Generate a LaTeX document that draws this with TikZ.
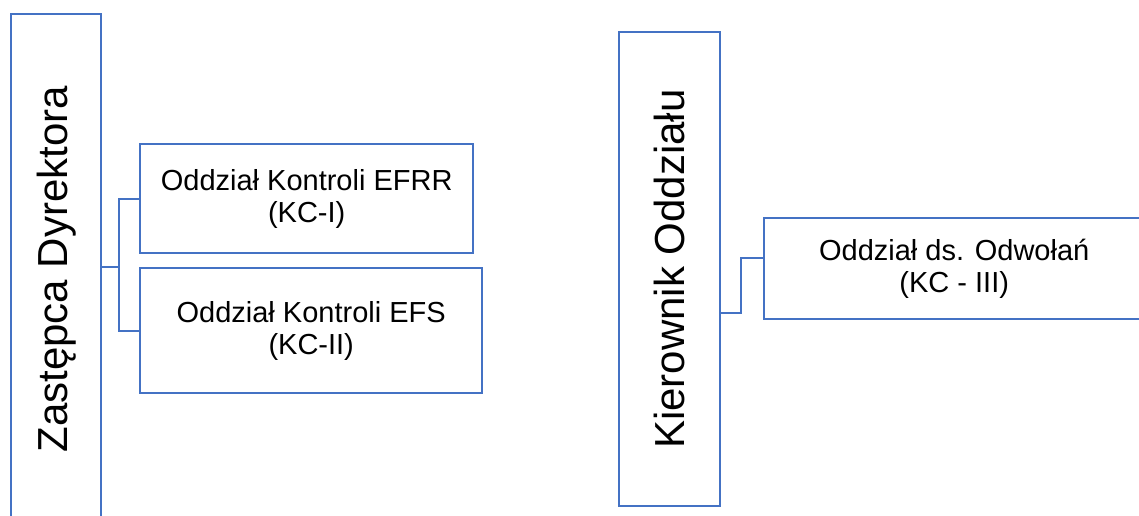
\documentclass[tikz,border=0pt]{standalone}
\usepackage{fontspec}
\setmainfont{Liberation Sans}
\definecolor{boxblue}{HTML}{4472C4}
\begin{document}
\begin{tikzpicture}[x=1pt,y=-1pt,
  box/.style={draw=boxblue, line width=2.4pt, fill=white, inner sep=0pt, anchor=north west, align=center},
  big/.style={font=\fontsize{42}{48}\selectfont},
  small/.style={font=\fontsize{29}{32}\selectfont},
  conn/.style={draw=boxblue, line width=2.4pt}]
\useasboundingbox (0,0) rectangle (1139,516);
% left group
\node[box, big, minimum width=90pt, minimum height=510pt] (zd) at (10,13) {\rotatebox{90}{Zastępca Dyrektora}};
\node[box, small, minimum width=333pt, minimum height=109pt] (a) at (139,143) {Oddział Kontroli EFRR\\(KC-I)};
\node[box, small, minimum width=342pt, minimum height=125pt] (b) at (139,267) {Oddział Kontroli EFS\\(KC-II)};
\coordinate (j1) at (119,267);
\draw[conn] (zd.east |- j1) -- (j1);
\draw[conn] (j1) |- (a.west);
\draw[conn] (j1) |- (b.west);
% right group
\node[box, big, minimum width=101pt, minimum height=474pt] (ko) at (618,31) {\rotatebox{90}{Kierownik Oddziału}};
\node[box, small, minimum width=380pt, minimum height=101pt] (c) at (763,217) {Oddział ds. Odwołań\\(KC - III)};
\coordinate (j2) at (741,313);
\coordinate (j3) at (741,258);
\draw[conn] (ko.east |- j2) -- (j2) -- (j3) -- (c.west |- j3);
\end{tikzpicture}
\end{document}
